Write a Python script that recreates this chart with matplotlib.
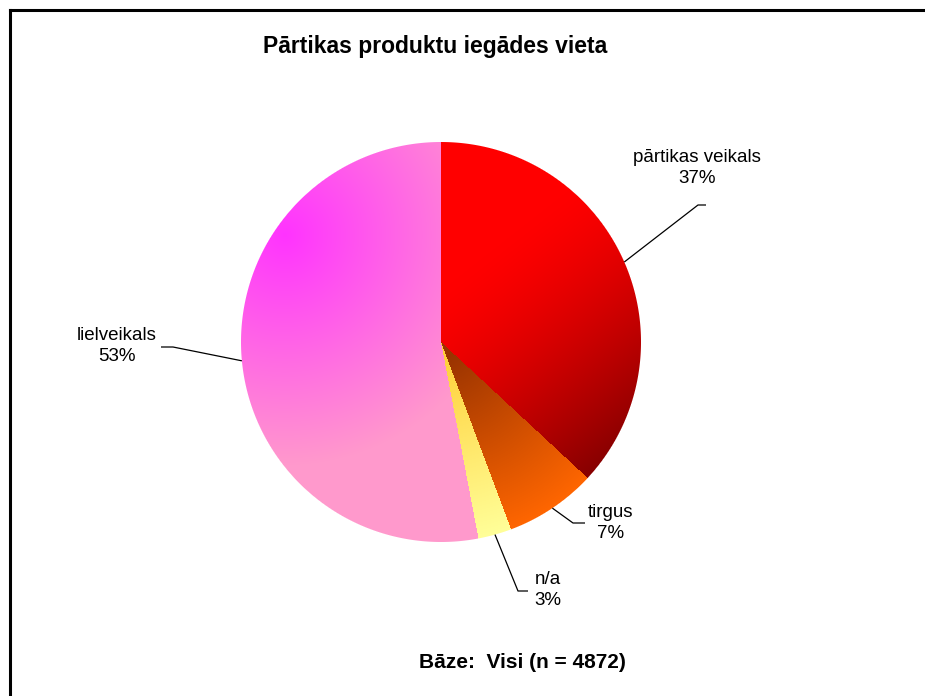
import numpy as np
import matplotlib
matplotlib.use("Agg")
import matplotlib.pyplot as plt
from matplotlib.lines import Line2D
from matplotlib.colors import to_rgb

# ---- data ----
categories = ["pārtikas veikals", "tirgus", "n/a", "lielveikals"]
values = [36.9, 7.4, 2.7, 53.0]
title = "Pārtikas produktu iegādes vieta"
base_note = "Bāze:  Visi (n = 4872)"

W, H = 925, 696
plt.rcParams['font.family'] = ['Liberation Sans', 'DejaVu Sans']

fig = plt.figure(figsize=(W / 100, H / 100), dpi=100)
ax = fig.add_axes([0, 0, 1, 1])

cx, cy, R = 441, H - 342, 200

# pixel grid (y-up coords), cell centres
N = 2 * R
xs = cx - R + (np.arange(N) + 0.5)
ys = cy - R + (np.arange(N) + 0.5)
X, Y = np.meshgrid(xs, ys)
Yd = H - Y  # y-down
rad = np.hypot(X - cx, Y - cy)
theta = (90 - np.degrees(np.arctan2(Y - cy, X - cx))) % 360  # clockwise from top


def lerp(c0, c1, t):
    c0 = np.array(to_rgb(c0)); c1 = np.array(to_rgb(c1))
    t = np.clip(np.nan_to_num(t), 0, 1)[..., None]
    return c0 * (1 - t) + c1 * t


def linear_t(p0, p1):
    d = np.array(p1, float) - np.array(p0, float)
    t = ((X - p0[0]) * d[0] + (Yd - p0[1]) * d[1]) / (d @ d)
    return np.clip(t, 0, 1)


grads = [
    lerp("#ff0000", "#880000", linear_t((480, 260), (625, 445)) ** 1.4),
    lerp("#993300", "#ff6600", (rad - 15) / 185),
    lerp("#ffcc33", "#ffff99", rad / 200),
    lerp("#ff33ff", "#ff99cc", np.hypot(X - 285, Yd - 235) / 230),
]

total = sum(values)
rgb = np.ones((N, N, 3))
cum = 0
for v, g in zip(values, grads):
    a0 = cum / total * 360
    a1 = (cum + v) / total * 360
    cum += v
    inside = (theta >= a0) & (theta < a1)
    rgb[inside] = g[inside]
alpha = np.clip((R - rad) + 0.5, 0, 1)
rgba = np.dstack([rgb, alpha])
ax.imshow(rgba, extent=(cx - R, cx + R, cy - R, cy + R), origin='lower',
          interpolation='nearest', zorder=1)

# labels with leader lines
label_pos = [(697, 168), (611, 523), (548, 590), (117, 346)]
elbows = [((698, 205), (706, 205)), ((573, 523), (585, 523)),
          ((518, 591), (528, 591)), ((173, 347), (161, 347))]
cum = 0
for v, name, lp, (e1, e2) in zip(values, categories, label_pos, elbows):
    mid = (cum + v / 2) / total * 360
    cum += v
    ang = np.deg2rad(90 - mid)
    sx, sy = cx + R * np.cos(ang), cy + R * np.sin(ang)
    ax.plot([sx, e1[0], e2[0]], [sy, H - e1[1], H - e2[1]], color='black',
            lw=0.9, zorder=3, solid_capstyle='butt')
    ax.text(lp[0], H - lp[1], f"{name}\n{round(v)}%", ha='center', va='center',
            fontsize=13.5, linespacing=1.25, zorder=4)

ax.text(435, H - 47, title, ha='center', va='center', fontsize=16.5,
        fontweight='bold')
ax.text(522, H - 662, base_note, ha='center', va='center', fontsize=15,
        fontweight='bold')

ax.set_xlim(0, W)
ax.set_ylim(0, H)
ax.set_aspect('auto')
ax.axis('off')

# frame
fig.add_artist(Line2D([10 / W, 10 / W], [0, 1 - 10 / H], transform=fig.transFigure,
                      color='black', lw=2.2, solid_capstyle='projecting'))
fig.add_artist(Line2D([10 / W, 1], [1 - 10 / H, 1 - 10 / H], transform=fig.transFigure,
                      color='black', lw=2.2, solid_capstyle='projecting'))

fig.savefig("out.png", dpi=100, facecolor='white')
